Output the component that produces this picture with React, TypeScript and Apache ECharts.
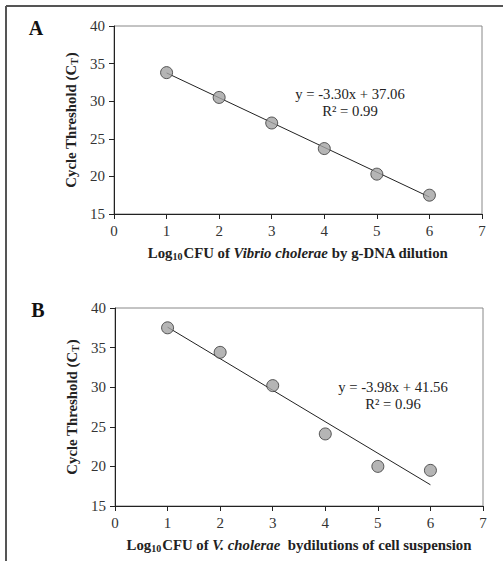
import React, { useEffect, useRef } from "react";
import * as echarts from "echarts";

// Panel A data
const xA = [1, 2, 3, 4, 5, 6];
const ctA = [33.8, 30.5, 27.1, 23.7, 20.3, 17.5];
const fitA = [[1, 33.76], [6, 17.26]];
const eqA = "y = -3.30x + 37.06";
const r2A = "R² = 0.99";

// Panel B data
const xB = [1, 2, 3, 4, 5, 6];
const ctB = [37.5, 34.4, 30.2, 24.1, 20.0, 19.5];
const fitB = [[1, 37.58], [6, 17.68]];
const eqB = "y = -3.98x + 41.56";
const r2B = "R² = 0.96";

const FONT = "Liberation Serif";

const richName = {
  b: { fontFamily: FONT, fontWeight: "bold", fontSize: 14.8, color: "#222" },
  i: { fontFamily: FONT, fontWeight: "bold", fontStyle: "italic", fontSize: 14.8, color: "#222" },
  sub: { fontFamily: FONT, fontWeight: "bold", fontSize: 10, color: "#222", verticalAlign: "bottom", padding: [7, 1, 0, 0] },
};

function xAxisCfg(gridIndex: number, name: string) {
  return {
    gridIndex,
    type: "value",
    min: 0,
    max: 7,
    interval: 1,
    name,
    nameLocation: "middle",
    nameGap: 30,
    nameTextStyle: { rich: richName },
    axisLine: { show: true, onZero: false, lineStyle: { color: "#222", width: 1 } },
    axisTick: { show: true, length: 5, lineStyle: { color: "#222" } },
    axisLabel: { fontFamily: FONT, fontSize: 15, color: "#333", margin: 9 },
    splitLine: { show: false },
  };
}

function yAxisCfg(gridIndex: number) {
  return {
    gridIndex,
    type: "value",
    min: 15,
    max: 40,
    interval: 5,
    name: "{b|Cycle Threshold (C}{sub|T}{b|)}",
    nameLocation: "middle",
    nameRotate: 90,
    nameGap: 34,
    nameTextStyle: { rich: richName },
    axisLine: { show: true, onZero: false, lineStyle: { color: "#222", width: 1 } },
    axisTick: { show: true, length: 5, lineStyle: { color: "#222" } },
    axisLabel: { fontFamily: FONT, fontSize: 15, color: "#333", margin: 9 },
    splitLine: { show: false },
  };
}

export default function App() {
  const ref = useRef<HTMLDivElement>(null);
  useEffect(() => {
    document.body.style.margin = "0";
    const chart = echarts.init(ref.current!, null, { renderer: "svg" });
    const pointStyle = { color: "#a3a3a3", borderColor: "#333", borderWidth: 1 };
    chart.setOption({
      animation: false,
      backgroundColor: "#fff",
      grid: [
        { left: 114, top: 26, width: 368, height: 188, show: true, borderColor: "#888", borderWidth: 1, backgroundColor: "transparent" },
        { left: 115, top: 308, width: 368, height: 198, show: true, borderColor: "#888", borderWidth: 1, backgroundColor: "transparent" },
      ],
      xAxis: [
        xAxisCfg(0, "{b|Log}{sub|10}{b|CFU of }{i|Vibrio cholerae}{b| by g-DNA dilution}"),
        xAxisCfg(1, "{b|Log}{sub|10}{b|CFU of }{i|V. cholerae}{b|  bydilutions of cell suspension}"),
      ],
      yAxis: [yAxisCfg(0), yAxisCfg(1)],
      series: [
        {
          type: "line", xAxisIndex: 0, yAxisIndex: 0, data: fitA, showSymbol: false,
          lineStyle: { color: "#222", width: 1 }, z: 2,
        },
        {
          type: "scatter", xAxisIndex: 0, yAxisIndex: 0, data: xA.map((x, i) => [x, ctA[i]]),
          symbolSize: 12, itemStyle: pointStyle, z: 3,
        },
        {
          type: "line", xAxisIndex: 1, yAxisIndex: 1, data: fitB, showSymbol: false,
          lineStyle: { color: "#222", width: 1 }, z: 2,
        },
        {
          type: "scatter", xAxisIndex: 1, yAxisIndex: 1, data: xB.map((x, i) => [x, ctB[i]]),
          symbolSize: 12, itemStyle: pointStyle, z: 3,
        },
      ],
      graphic: [
        { type: "line", shape: { x1: 6, y1: 6, x2: 503, y2: 6 }, style: { stroke: "#555", lineWidth: 2 } },
        { type: "line", shape: { x1: 6, y1: 6, x2: 6, y2: 561 }, style: { stroke: "#555", lineWidth: 2 } },
        { type: "text", x: 36, y: 28, style: { text: "A", font: `bold 20px ${FONT}`, fill: "#111", align: "center", verticalAlign: "middle" } },
        { type: "text", x: 38, y: 310, style: { text: "B", font: `bold 20px ${FONT}`, fill: "#111", align: "center", verticalAlign: "middle" } },
        { type: "text", x: 350, y: 94, style: { text: eqA, font: `14.7px ${FONT}`, fill: "#222", align: "center", verticalAlign: "middle" } },
        { type: "text", x: 350, y: 111, style: { text: r2A, font: `14.7px ${FONT}`, fill: "#222", align: "center", verticalAlign: "middle" } },
        { type: "text", x: 393, y: 387, style: { text: eqB, font: `14.7px ${FONT}`, fill: "#222", align: "center", verticalAlign: "middle" } },
        { type: "text", x: 393, y: 404, style: { text: r2B, font: `14.7px ${FONT}`, fill: "#222", align: "center", verticalAlign: "middle" } },
      ],
    });
    return () => chart.dispose();
  }, []);
  return <div ref={ref} style={{ width: 503, height: 561 }} />;
}
